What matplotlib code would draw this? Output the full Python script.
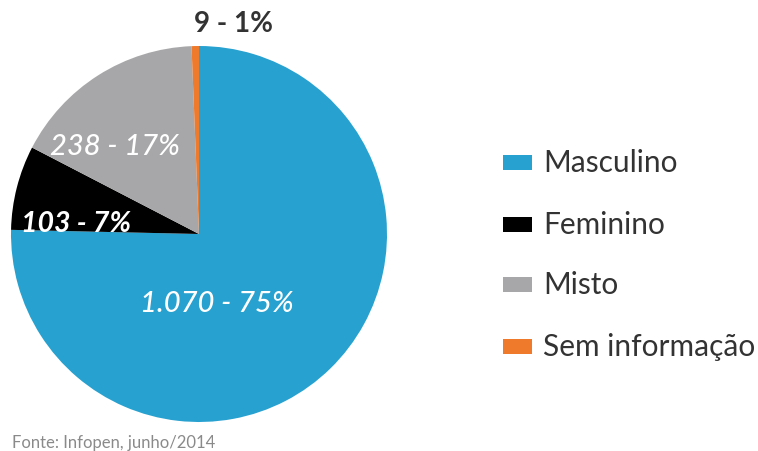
import matplotlib
matplotlib.use("Agg")
import matplotlib.pyplot as plt
from matplotlib.patches import Rectangle

plt.rcParams['font.family'] = ['Lato', 'DejaVu Sans']

categories = ["Masculino", "Feminino", "Misto", "Sem informação"]
values = [1070, 103, 238, 9]
value_labels = ["1.070 - 75%", "103 - 7%", "238 - 17%", "9 - 1%"]
colors = ["#27a1d0", "#000000", "#a7a7a9", "#ef7a2c"]
source = "Fonte: Infopen, junho/2014"

W, H = 758, 452
fig = plt.figure(figsize=(W / 100, H / 100), dpi=100)
fig.patch.set_facecolor("white")

# pie axes: center (199,235) px, radius 188 px
cx, cy, r = 199, 235, 188
ax = fig.add_axes([(cx - r) / W, (H - cy - r) / H, 2 * r / W, 2 * r / H])
wedges, _ = ax.pie(values, colors=colors, startangle=90, counterclock=False,
                   radius=1.0, wedgeprops=dict(linewidth=0))
ax.set_xlim(-1, 1)
ax.set_ylim(-1, 1)
ax.set_aspect("equal")
ax.axis("off")

# label positions (pixel), styles
label_pos = [(217, 304), (76, 224), (115, 147), (233, 24)]
label_style = [
    dict(color="white", style="italic", weight="medium", fontsize=21),
    dict(color="white", style="italic", weight="bold", fontsize=20.5),
    dict(color="white", style="italic", weight="medium", fontsize=21),
    dict(color="#333333", style="normal", weight="bold", fontsize=20),
]
for txt, (px, py), st in zip(value_labels, label_pos, label_style):
    fig.text(px / W, 1 - py / H, txt, ha="center", va="center", **st)

# legend
leg_y = [163, 225, 285, 347]
for cat, col, ly in zip(categories, colors, leg_y):
    fig.patches.append(Rectangle((503 / W, 1 - (ly + 7.5) / H), 29 / W, 15 / H,
                                 transform=fig.transFigure, facecolor=col,
                                 edgecolor="none"))
    fig.text(543 / W, 1 - ly / H, cat, ha="left", va="center", fontsize=21.5,
             color="#333333")

fig.text(12 / W, 1 - 443 / H, source, ha="left", va="center", fontsize=12,
         color="#8a8a8a")

fig.savefig("out.png", dpi=100, facecolor="white")
